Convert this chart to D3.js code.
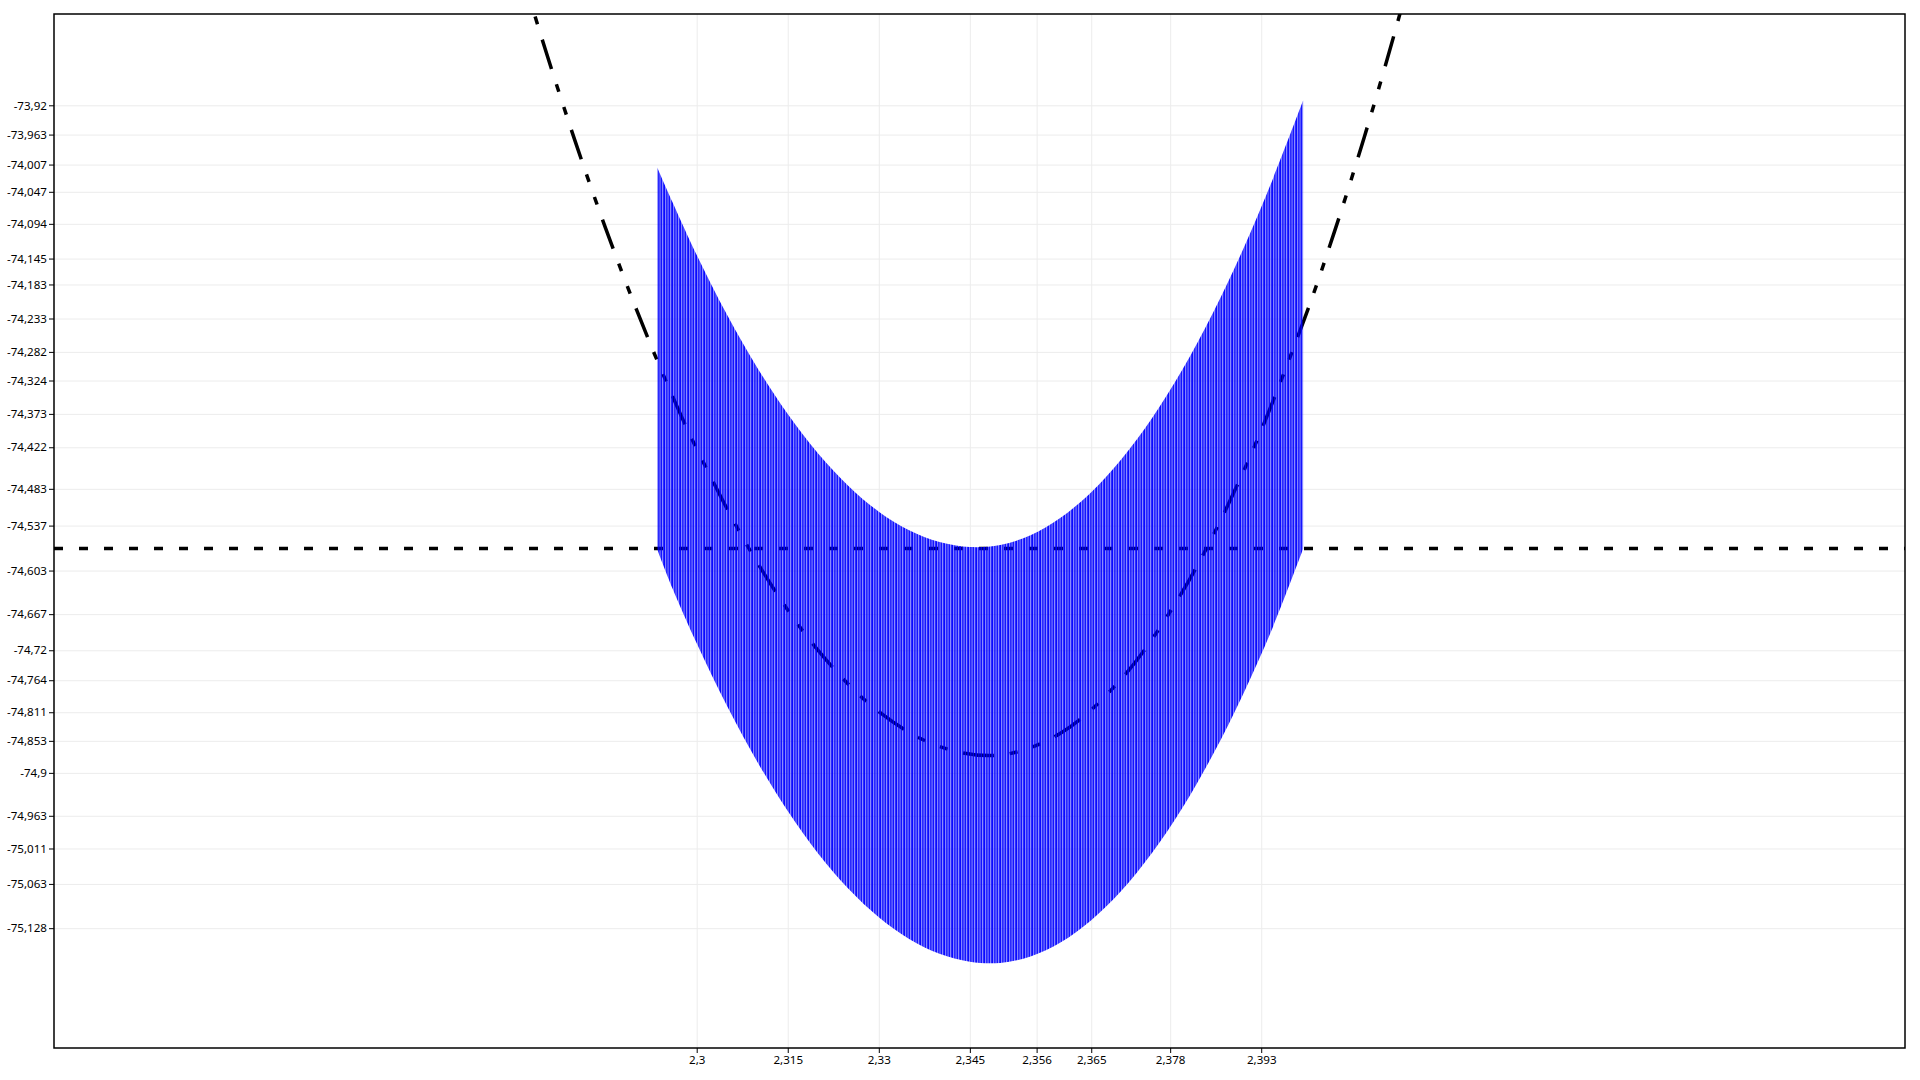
<!DOCTYPE html>
<html>
<head>
<meta charset="utf-8">
<script src="https://cdn.jsdelivr.net/npm/d3@7/dist/d3.min.js"></script>
<style>
  body { margin: 0; background: #fff; }
  .axis text { font-family: "Noto Sans", "Open Sans", sans-serif; font-size: 11.6px; fill: #000; }
  .axis line { stroke: #000; }
  .grid line { stroke: #ececec; stroke-width: 1; }
  .grid path, .axis path { display: none; }
</style>
</head>
<body>
<svg id="chart" width="1920" height="1080"></svg>
<script>
// tick values shown on the axes
var xTicks = [2.3, 2.315, 2.33, 2.345, 2.356, 2.365, 2.378, 2.393];
var yTicks = [-73.92, -73.963, -74.007, -74.047, -74.094, -74.145, -74.183, -74.233,
  -74.282, -74.324, -74.373, -74.422, -74.483, -74.537, -74.603, -74.667, -74.72,
  -74.764, -74.811, -74.853, -74.9, -74.963, -75.011, -75.063, -75.128];

// blue band (vertical bars), upper and lower ends
var bandX = [2.2935, 2.296, 2.3, 2.305, 2.31, 2.315, 2.32, 2.325, 2.33, 2.335, 2.34, 2.345,
  2.35, 2.355, 2.36, 2.365, 2.37, 2.375, 2.38, 2.385, 2.39, 2.395, 2.3999];
var bandUpper = [-74.0113, -74.0618, -74.1396, -74.2276, -74.3055, -74.3733, -74.4312, -74.4787,
  -74.5165, -74.5439, -74.5612, -74.5686, -74.5655, -74.5510, -74.5251, -74.4880, -74.4394,
  -74.3795, -74.3083, -74.2256, -74.1317, -74.0263, -73.9131];
var bandLower = [-74.5721, -74.6288, -74.7098, -74.8020, -74.8840, -74.9561, -75.0182, -75.0702,
  -75.1120, -75.1439, -75.1656, -75.1773, -75.1790, -75.1694, -75.1486, -75.1163, -75.0728,
  -75.0178, -74.9516, -74.8739, -74.7849, -74.6845, -74.5714];

// dash-dot curve
var curveX = [2.27, 2.275, 2.28, 2.285, 2.29, 2.295, 2.3, 2.31, 2.32, 2.33, 2.34, 2.35, 2.36,
  2.37, 2.38, 2.39, 2.4, 2.405, 2.41, 2.415, 2.42];
var curveY = [-73.6897, -73.8363, -73.9733, -74.1006, -74.2182, -74.3261, -74.4243, -74.5916,
  -74.7202, -74.8102, -74.8614, -74.8738, -74.8415, -74.7616, -74.6342, -74.4591, -74.2364,
  -74.1073, -73.9661, -73.8131, -73.6483];

// horizontal dotted limit
var limitY = [-74.5708];

var svg = d3.select("#chart");
var margin = {top: 14, right: 15, bottom: 32, left: 54},
    width = +svg.attr("width") - margin.left - margin.right,
    height = +svg.attr("height") - margin.top - margin.bottom;

var x = d3.scaleLinear().domain([2.19412, 2.49906]).range([0, width]);
var y = d3.scaleLinear().domain([-75.30389, -73.78597]).range([height, 0]);

var fmt = function(d) { return String(d).replace(".", ","); };

var defs = svg.append("defs");
defs.append("clipPath").attr("id", "plot-clip")
  .append("rect").attr("width", width).attr("height", height);

// bar texture: thin blue bars with light gaps
var pat = defs.append("pattern")
    .attr("id", "bars")
    .attr("patternUnits", "userSpaceOnUse")
    .attr("x", margin.left + x(2.2935))
    .attr("width", 8).attr("height", 8);
[0, 8 / 3, 16 / 3].forEach(function(o) {
  pat.append("rect").attr("x", o).attr("y", 0).attr("width", 1.95).attr("height", 8).attr("fill", "#0000ff");
});

var g = svg.append("g")
    .attr("transform", "translate(" + margin.left + "," + margin.top + ")");

// grid
g.append("g")
    .attr("class", "grid")
    .call(d3.axisLeft(y).tickValues(yTicks).tickSize(-width).tickFormat(""));
g.append("g")
    .attr("class", "grid")
    .attr("transform", "translate(0," + height + ")")
    .call(d3.axisBottom(x).tickValues(xTicks).tickSize(height).tickFormat(""))
  .selectAll("line").attr("y2", -height);

var plot = g.append("g").attr("clip-path", "url(#plot-clip)");

// dotted limit line
plot.selectAll(".limit")
  .data(limitY)
  .enter().append("line")
    .attr("class", "limit")
    .attr("x1", 0).attr("x2", width)
    .attr("y1", function(d) { return y(d); })
    .attr("y2", function(d) { return y(d); })
    .attr("stroke", "#000")
    .attr("stroke-width", 3.5)
    .attr("stroke-dasharray", "9,16");

// dash-dot-dot curve
var curveData = curveX.map(function(v, i) { return {x: v, y: curveY[i]}; });
plot.append("path")
    .datum(curveData)
    .attr("fill", "none")
    .attr("stroke", "#000")
    .attr("stroke-width", 3.5)
    .attr("stroke-dasharray", "31,16,8,16,8,16")
    .attr("d", d3.line()
      .x(function(d) { return x(d.x); })
      .y(function(d) { return y(d.y); })
      .curve(d3.curveCatmullRom));

// blue bars band
var bandData = bandX.map(function(v, i) { return {x: v, lo: bandLower[i], hi: bandUpper[i]}; });
plot.append("path")
    .datum(bandData)
    .attr("fill", "url(#bars)")
    .attr("d", d3.area()
      .x(function(d) { return x(d.x); })
      .y0(function(d) { return y(d.lo); })
      .y1(function(d) { return y(d.hi); })
      .curve(d3.curveCatmullRom));

// axes
g.append("g")
    .attr("class", "axis axis--y")
    .call(d3.axisLeft(y).tickValues(yTicks).tickSize(5).tickPadding(2).tickFormat(fmt));

g.append("g")
    .attr("class", "axis axis--x")
    .attr("transform", "translate(0," + height + ")")
    .call(d3.axisBottom(x).tickValues(xTicks).tickSize(5).tickPadding(3).tickFormat(fmt));

// frame
g.append("rect")
    .attr("width", width).attr("height", height)
    .attr("fill", "none")
    .attr("stroke", "#000")
    .attr("stroke-width", 1.5);
</script>
</body>
</html>
